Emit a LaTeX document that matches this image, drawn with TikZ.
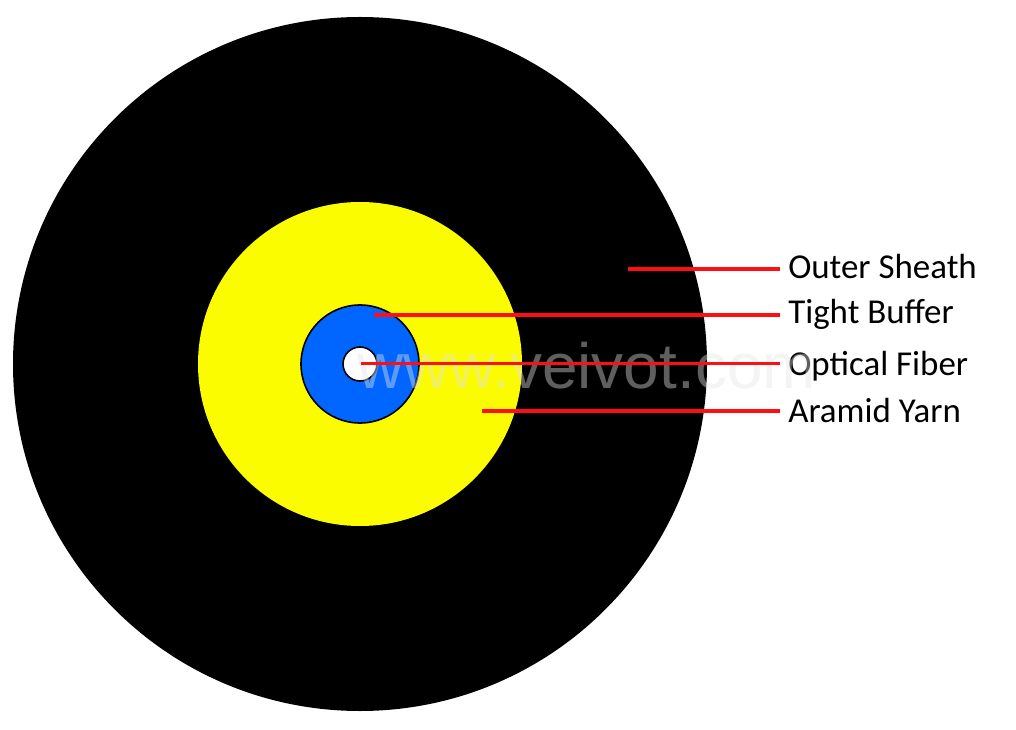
\documentclass[tikz,border=0pt]{standalone}
\usepackage{fontspec}
\setmainfont{Carlito}
\setsansfont{Liberation Sans}
\definecolor{sheathyellow}{RGB}{252,252,0}
\definecolor{bufferblue}{RGB}{0,102,255}
\definecolor{markgray}{RGB}{228,228,228}
\tikzset{
  leader/.style={draw={rgb,255:red,255;green,15;blue,20},line width=2.6pt},
  layerlabel/.style={anchor=base west,inner ysep=0pt,inner xsep=6pt,font=\fontsize{26.2}{30}\selectfont},
  layer/.style={circle,draw=black,line width=1.2pt,inner sep=0pt},
}
\begin{document}
\begin{tikzpicture}[x=0.75pt,y=0.75pt,yscale=-1,xscale=1]
\useasboundingbox (0,0) rectangle (1016,730);

%Shape: Circle
\node (outer) [circle,fill=black,inner sep=0pt,minimum size=520.5pt] at (360,364) {};
%Shape: Circle
\node (yarn) [circle,fill=sheathyellow,inner sep=0pt,minimum size=243pt] at (360,364) {};
%Shape: Circle
\node (buffer) [layer,fill=bufferblue,minimum size=88.5pt] at (360,364) {};
%Shape: Circle
\node (fiber) [layer,fill=white,minimum size=25.5pt] at (360,364) {};

% Free ends
\coordinate (sheathend) at (628,269);
\coordinate (bufferend) at (374,315);
\coordinate (fiberend) at (361,363.5);
\coordinate (yarnend) at (482,411);

% Text Node
\node (sheathlabel) [layerlabel] at (780,278.5) {Outer Sheath};
% Text Node
\node (bufferlabel) [layerlabel] at (780,324) {Tight Buffer};
% Text Node
\node (fiberlabel) [layerlabel] at (780,376) {Optical Fiber};
% Text Node
\node (yarnlabel) [layerlabel] at (780,422) {Aramid Yarn};

% Text Node
\node (mark) [anchor=base west,inner sep=0pt,text=markgray,text opacity=0.42,font=\sffamily\fontsize{48}{52}\selectfont] at (357,388) {www.veivot.com};

%Straight Lines
\draw [leader] (sheathend) -- (sheathend -| sheathlabel.west);
\draw [leader] (bufferend) -- (bufferend -| bufferlabel.west);
\draw [leader] (fiberend) -- (fiberend -| fiberlabel.west);
\draw [leader] (yarnend) -- (yarnend -| yarnlabel.west);
\end{tikzpicture}
\end{document}
